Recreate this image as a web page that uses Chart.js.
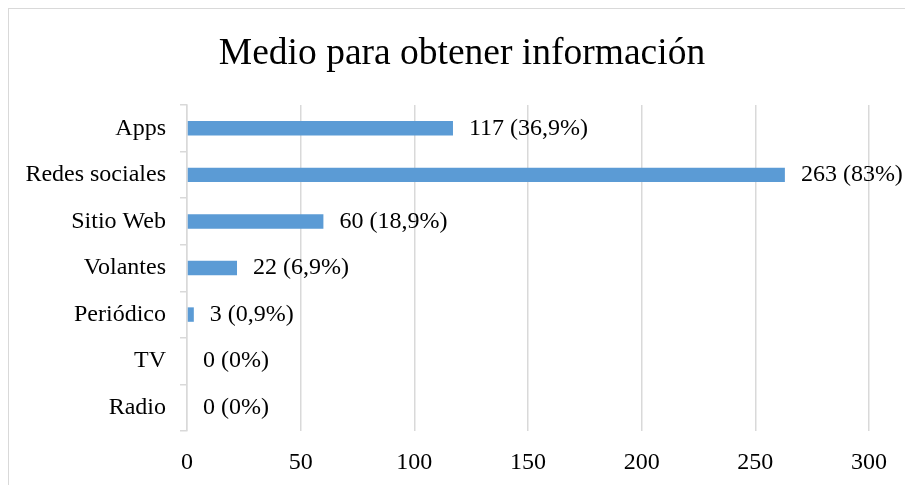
<!DOCTYPE html>
<html>
<head>
<meta charset="utf-8">
<script src="https://cdn.jsdelivr.net/npm/chart.js@4"></script>
<style>
  body { margin: 0; background: #fff; }
  canvas { display: block; }
</style>
</head>
<body>
<canvas id="chart" width="905" height="485"></canvas>
<script>
const titleText = "Medio para obtener información";
const categories = ["Apps", "Redes sociales", "Sitio Web", "Volantes", "Periódico", "TV", "Radio"];
const counts = [117, 263, 60, 22, 3, 0, 0];
const percents = ["36,9%", "83%", "18,9%", "6,9%", "0,9%", "0%", "0%"];
const xTicks = [0, 50, 100, 150, 200, 250, 300];

const serif = "'Liberation Serif', 'Times New Roman', serif";
const gridColor = "#d9d9d9";

// outer frame and title, centred on the frame rather than the plot
const framePlugin = {
    id: "frame",
    beforeDraw(chart) {
        const ctx = chart.ctx;
        ctx.save();
        ctx.fillStyle = "#fff";
        ctx.fillRect(0, 0, chart.width, chart.height);
        ctx.strokeStyle = gridColor;
        ctx.lineWidth = 1;
        ctx.strokeRect(8.5, 8.5, chart.width, chart.height);
        ctx.font = "37.5px " + serif;
        ctx.fillStyle = "#000";
        ctx.textAlign = "center";
        ctx.textBaseline = "alphabetic";
        ctx.fillText(titleText, 462, 63.5);
        ctx.restore();
    }
};

// value labels to the right of each bar
const valueLabels = {
    id: "valueLabels",
    afterDatasetsDraw(chart) {
        const ctx = chart.ctx;
        const meta = chart.getDatasetMeta(0);
        ctx.save();
        ctx.font = "24px " + serif;
        ctx.fillStyle = "#000";
        ctx.textAlign = "left";
        ctx.textBaseline = "middle";
        meta.data.forEach((bar, i) => {
            ctx.fillText(counts[i] + " (" + percents[i] + ")", bar.x + 16, bar.y);
        });
        ctx.restore();
    }
};

new Chart(document.getElementById("chart"), {
    type: "bar",
    data: {
        labels: categories,
        datasets: [{
            data: counts,
            backgroundColor: "#5b9bd5",
            borderWidth: 0,
            categoryPercentage: 1,
            barPercentage: 0.31
        }]
    },
    options: {
        indexAxis: "y",
        responsive: false,
        animation: false,
        layout: { padding: { left: 0, right: 36, top: 105, bottom: 0 } },
        plugins: {
            legend: { display: false },
            tooltip: { enabled: false },
            title: { display: false }
        },
        scales: {
            x: {
                min: 0,
                max: 300,
                afterBuildTicks(scale) {
                    scale.ticks = xTicks.map(v => ({ value: v }));
                },
                afterFit(scale) { scale.height = 54; },
                grid: { color: gridColor, lineWidth: 1.5, drawTicks: false },
                border: { display: false },
                ticks: {
                    color: "#000",
                    padding: 17,
                    font: { family: serif, size: 24 }
                }
            },
            y: {
                afterFit(scale) { scale.width = 187; },
                grid: {
                    offset: true,
                    drawOnChartArea: false,
                    tickLength: 7,
                    lineWidth: 1.5,
                    color: gridColor
                },
                border: { display: true, color: gridColor, width: 1.5 },
                ticks: {
                    color: "#000",
                    padding: 14,
                    font: { family: serif, size: 24 }
                }
            }
        }
    },
    plugins: [framePlugin, valueLabels]
});
</script>
</body>
</html>
